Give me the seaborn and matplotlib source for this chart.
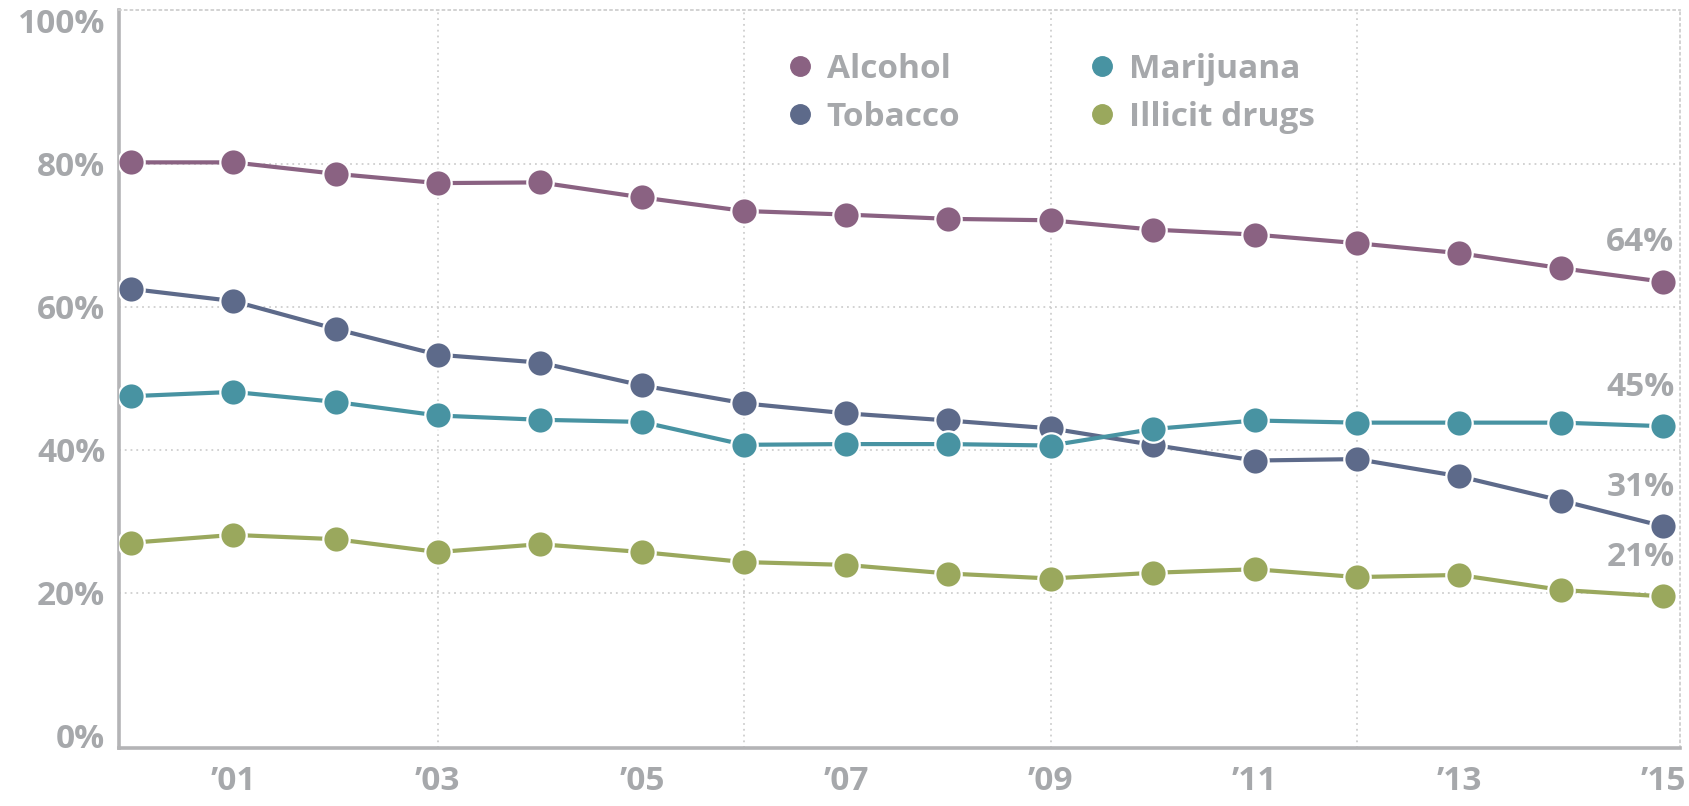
import pandas as pd
import seaborn as sns
import matplotlib.pyplot as plt
from matplotlib.lines import Line2D

years = list(range(2000, 2016))

alcohol = [80.2, 80.2, 78.6, 77.3, 77.4, 75.3, 73.4, 72.9, 72.3, 72.1, 70.8, 70.1, 68.9, 67.5, 65.4, 63.5]
tobacco = [62.5, 60.8, 56.9, 53.3, 52.2, 49.0, 46.5, 45.1, 44.1, 43.0, 40.7, 38.5, 38.7, 36.3, 32.9, 29.3]
marijuana = [47.5, 48.1, 46.7, 44.8, 44.2, 43.9, 40.7, 40.8, 40.8, 40.6, 42.9, 44.1, 43.8, 43.8, 43.8, 43.3]
illicit = [27.0, 28.1, 27.5, 25.7, 26.8, 25.7, 24.3, 23.9, 22.7, 22.0, 22.8, 23.3, 22.2, 22.5, 20.4, 19.5]

substances = ["Alcohol", "Tobacco", "Marijuana", "Illicit drugs"]
end_labels = ["64%", "31%", "45%", "21%"]
colors = ["#8a6282", "#5d6a8a", "#4893a2", "#9aa85d"]

y_ticks = [0, 20, 40, 60, 80, 100]
y_ticklabels = ["0%", "20%", "40%", "60%", "80%", "100%"]
x_ticks = [2001, 2003, 2005, 2007, 2009, 2011, 2013, 2015]
x_ticklabels = ["\u201901", "\u201903", "\u201905", "\u201907", "\u201909", "\u201911", "\u201913", "\u201915"]
x_grid = [2003, 2006, 2009, 2012]

text_grey = "#a6a8ab"
axis_grey = "#b4b4b6"
grid_grey = "#cfcfcf"
fsize = 24

series = [alcohol, tobacco, marijuana, illicit]
df = pd.DataFrame({
    "year": years * 4,
    "share": sum(series, []),
    "substance": [s for s in substances for _ in years],
})

sns.set_style("white")
plt.rcParams["font.family"] = ["Open Sans", "DejaVu Sans"]

fig = plt.figure(figsize=(16.89, 8.06), dpi=100)
ax = fig.add_axes([0.0705, 0.072, 0.924, 0.9155])

# grid lines first so they sit under the data
for yv in [20, 40, 60, 80]:
    ax.axhline(yv, color=grid_grey, lw=1.3, ls=(0, (1, 2.2)), zorder=0)
for xv in x_grid:
    ax.axvline(xv, color=grid_grey, lw=1.3, ls=(0, (1, 2.2)), zorder=0)

sns.lineplot(data=df, x="year", y="share", hue="substance", hue_order=substances,
             palette=colors, marker="o", markersize=19, markeredgecolor="white",
             markeredgewidth=1.6, linewidth=3, legend=False, ax=ax, zorder=3)

ax.set_xlim(1999.88, 2015.16)
ax.set_ylim(-1.7, 101.5)
ax.set_yticks(y_ticks)
ax.set_yticklabels(y_ticklabels)
ax.set_xticks(x_ticks)
ax.set_xticklabels(x_ticklabels)
ax.tick_params(axis="both", length=0, labelsize=fsize, labelcolor=text_grey)
ax.tick_params(axis="y", pad=10)
ax.tick_params(axis="x", pad=12)
for lab in ax.get_xticklabels() + ax.get_yticklabels():
    lab.set_fontweight("bold")
ax.set_xlabel("")
ax.set_ylabel("")

for side in ["left", "bottom"]:
    ax.spines[side].set_color(axis_grey)
    ax.spines[side].set_linewidth(2.6)
for side in ["top", "right"]:
    ax.spines[side].set_color(grid_grey)
    ax.spines[side].set_linewidth(1.3)
    ax.spines[side].set_linestyle((0, (1, 2.2)))

# labels over the last points
for vals, lab in zip(series, end_labels):
    ax.annotate(lab, xy=(years[-1], vals[-1]), xytext=(8, 28), textcoords="offset points",
                ha="right", va="center", fontsize=fsize, color=text_grey,
                fontweight="bold", zorder=4)

handles = [Line2D([], [], ls="none", marker="o", markersize=14, color=c) for c in colors]
fig.legend(handles, substances, loc="upper left", bbox_to_anchor=(0.457, 0.955),
           bbox_transform=fig.transFigure, ncol=2, frameon=False,
           handlelength=0.7, handletextpad=0.45, columnspacing=3.9, labelspacing=0.45,
           borderpad=0, prop={"weight": "bold", "size": fsize})
for t in fig.legends[0].get_texts():
    t.set_color(text_grey)

fig.savefig("out.png", dpi=100)
